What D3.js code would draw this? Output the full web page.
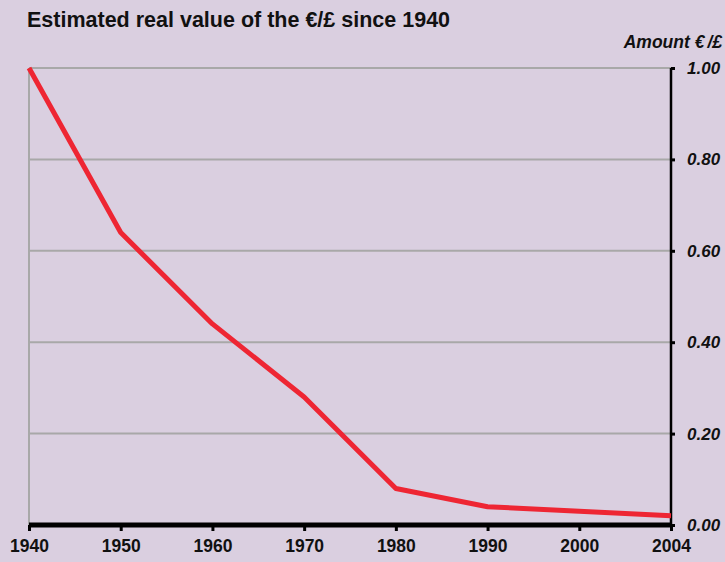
<!DOCTYPE html>
<html>
<head>
<meta charset="utf-8">
<script src="https://cdnjs.cloudflare.com/ajax/libs/d3/7.8.5/d3.min.js"></script>
<style>
  body { margin: 0; background: #dacfe0; }
  text { font-family: "Liberation Sans", Arial, sans-serif; font-weight: bold; fill: #111; }
</style>
</head>
<body>
<div id="viz"></div>
<script>
const years = ["1940", "1950", "1960", "1970", "1980", "1990", "2000", "2004"];
const values = [1.00, 0.64, 0.44, 0.28, 0.08, 0.04, 0.03, 0.02];
const yTicks = [0, 0.2, 0.4, 0.6, 0.8, 1.0];

const W = 725, H = 562;
const margin = {top: 68, right: 54, bottom: 37, left: 29},
      width = W - margin.left - margin.right,
      height = H - margin.top - margin.bottom;

const root = d3.select("#viz").append("svg")
    .attr("width", W).attr("height", H);

root.append("rect").attr("width", W).attr("height", H).attr("fill", "#dacfe0");

root.append("text")
    .attr("x", 27).attr("y", 27)
    .attr("font-size", 21.5)
    .text("Estimated real value of the €/£ since 1940");

const unit = root.append("text")
    .attr("x", 722).attr("y", 48)
    .attr("text-anchor", "end")
    .attr("font-size", 17.5)
    .attr("font-style", "italic");
unit.append("tspan").text("Amount €");
unit.append("tspan").attr("dx", 3).text("/£");

const svg = root.append("g").attr("transform", `translate(${margin.left},${margin.top})`);

const x = d3.scalePoint().domain(years).range([0, width]);
const y = d3.scaleLinear().domain([0, 1]).range([height, 0]);

// gridlines
svg.selectAll(".grid")
    .data(yTicks.filter(d => d > 0))
    .enter().append("line")
    .attr("x1", 0).attr("x2", width)
    .attr("y1", d => y(d)).attr("y2", d => y(d))
    .attr("stroke", "#a8a8a8").attr("stroke-width", 2);

svg.append("line")
    .attr("x1", 0).attr("x2", 0).attr("y1", 0).attr("y2", height)
    .attr("stroke", "#a8a8a8").attr("stroke-width", 2);

// right axis
const yAxis = svg.append("g")
    .attr("transform", `translate(${width},0)`)
    .call(d3.axisRight(y).tickValues(yTicks).tickFormat(d3.format(".2f")).tickSize(4).tickPadding(12));
yAxis.select(".domain").attr("stroke", "#000").attr("stroke-width", 2.5).attr("d", `M0,0V${height}`);
yAxis.selectAll(".tick line").attr("stroke", "#000").attr("stroke-width", 3);
yAxis.selectAll(".tick text")
    .attr("font-size", 17).attr("font-style", "italic")
    .attr("font-family", "Liberation Sans, Arial, sans-serif").attr("font-weight", "bold")
    .attr("fill", "#111");

// line
const line = d3.line()
    .x((d, i) => x(years[i]))
    .y(d => y(d));

svg.append("path")
    .datum(values)
    .attr("d", line)
    .attr("fill", "none")
    .attr("stroke", "#ee2633")
    .attr("stroke-width", 5)
    .attr("stroke-linejoin", "round");

// bottom axis
const xAxis = svg.append("g")
    .attr("transform", `translate(0,${height})`)
    .call(d3.axisBottom(x).tickSize(6).tickPadding(9));
xAxis.select(".domain").attr("stroke", "#000").attr("stroke-width", 5).attr("d", `M0,0H${width}`);
xAxis.selectAll(".tick line").attr("stroke", "#000").attr("stroke-width", 3);
xAxis.selectAll(".tick text")
    .attr("font-size", 17.5)
    .attr("font-family", "Liberation Sans, Arial, sans-serif").attr("font-weight", "bold")
    .attr("fill", "#111");
</script>
</body>
</html>
